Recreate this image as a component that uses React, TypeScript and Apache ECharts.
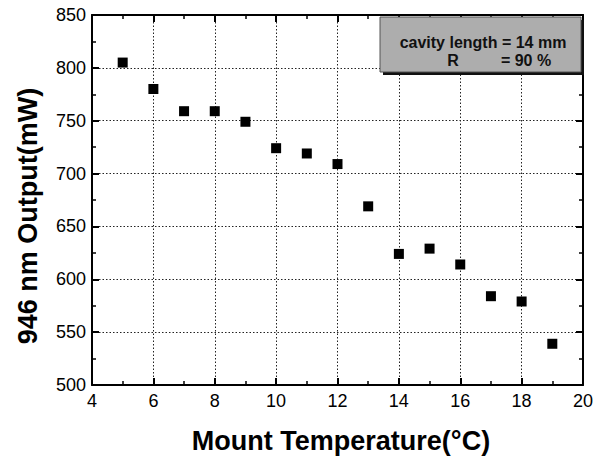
import React, { useEffect, useRef } from "react";
import * as echarts from "echarts";

const temperatures = [5, 6, 7, 8, 9, 10, 11, 12, 13, 14, 15, 16, 17, 18, 19];
const outputs = [805, 780, 759, 759, 749, 724, 719, 709, 669, 624, 629, 614, 584, 579, 539];
const xTitle = "Mount Temperature(°C)";
const yTitle = "946 nm Output(mW)";
const noteLine1 = "cavity length = 14 mm";
const noteR = "R";
const noteLine2 = "= 90 %";

const FONT = "'Liberation Sans', Arial, sans-serif";

export default function App() {
  const ref = useRef<HTMLDivElement>(null);
  useEffect(() => {
    document.body.style.margin = "0";
    if (!ref.current) return;
    const chart = echarts.init(ref.current, undefined, { renderer: "svg" });
    const axisCommon = {
      type: "value" as const,
      axisLine: { show: true, onZero: false, lineStyle: { color: "#000", width: 2 } },
      axisTick: { show: true, inside: true, length: 7, lineStyle: { color: "#000", width: 2 } },
      minorTick: { show: true, splitNumber: 2, length: 4, lineStyle: { color: "#000", width: 1.5 } },
      z: 3,
    };
    const data = temperatures.map((t, i) => [t, outputs[i]]);
    const gridLine = { show: true, lineStyle: { color: "#222", type: [1.5, 2], width: 1 } };
    chart.setOption({
      animation: false,
      backgroundColor: "#fff",
      grid: { left: 92, top: 15, right: 23, bottom: 79, containLabel: false },
      xAxis: [
        {
          ...axisCommon,
          position: "bottom",
          min: 4,
          max: 20,
          interval: 2,
          axisLabel: { fontSize: 18, color: "#000", fontFamily: FONT, margin: 7 },
          splitLine: gridLine,
        },
        {
          ...axisCommon,
          position: "top",
          min: 4,
          max: 20,
          interval: 2,
          axisLabel: { show: false },
          splitLine: { show: false },
        },
      ],
      yAxis: [
        {
          ...axisCommon,
          position: "left",
          min: 500,
          max: 850,
          interval: 50,
          axisLabel: { fontSize: 18, color: "#000", fontFamily: FONT, margin: 6 },
          splitLine: gridLine,
        },
        {
          ...axisCommon,
          position: "right",
          min: 500,
          max: 850,
          interval: 50,
          axisLabel: { show: false },
          splitLine: { show: false },
        },
      ],
      series: [
        {
          type: "scatter",
          xAxisIndex: 0,
          yAxisIndex: 0,
          symbol: "rect",
          symbolSize: 10,
          itemStyle: { color: "#000", opacity: 1 },
          data,
          z: 5,
        },
      ],
      graphic: [
        {
          type: "text",
          x: 28,
          y: 216,
          rotation: Math.PI / 2,
          style: {
            text: yTitle,
            fontSize: 27,
            fontWeight: "bold",
            fontFamily: FONT,
            fill: "#000",
            align: "center",
            verticalAlign: "middle",
          },
        },
        {
          type: "text",
          x: 341,
          y: 441,
          style: {
            text: xTitle,
            fontSize: 27,
            fontWeight: "bold",
            fontFamily: FONT,
            fill: "#000",
            align: "center",
            verticalAlign: "middle",
          },
        },
        {
          type: "rect",
          z: 10,
          shape: { x: 383, y: 20, width: 201, height: 55 },
          style: { fill: "#111" },
        },
        {
          type: "rect",
          z: 11,
          shape: { x: 380, y: 17, width: 201, height: 55 },
          style: { fill: "#adadad", stroke: "#555", lineWidth: 1 },
        },
        {
          type: "text",
          z: 12,
          x: 483,
          y: 42,
          style: {
            text: noteLine1,
            fontSize: 16,
            fontWeight: "bold",
            fontFamily: FONT,
            fill: "#111",
            align: "center",
            verticalAlign: "middle",
          },
        },
        {
          type: "text",
          z: 12,
          x: 453,
          y: 60,
          style: {
            text: noteR,
            fontSize: 16,
            fontWeight: "bold",
            fontFamily: FONT,
            fill: "#111",
            align: "center",
            verticalAlign: "middle",
          },
        },
        {
          type: "text",
          z: 12,
          x: 526,
          y: 60,
          style: {
            text: noteLine2,
            fontSize: 16,
            fontWeight: "bold",
            fontFamily: FONT,
            fill: "#111",
            align: "center",
            verticalAlign: "middle",
          },
        },
      ],
    });
    return () => chart.dispose();
  }, []);
  return <div ref={ref} style={{ width: 606, height: 464 }} />;
}
